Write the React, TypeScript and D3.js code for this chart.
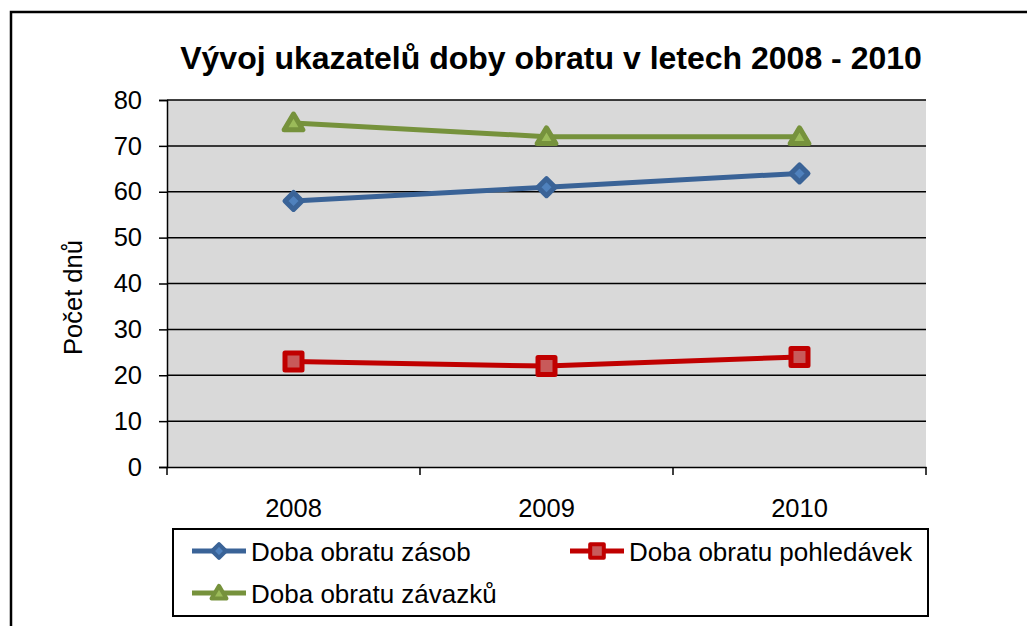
import { useEffect, useRef } from 'react';
import * as d3 from 'd3';

const years = ['2008', '2009', '2010'];
const zasoby = [58, 61, 64];
const pohledavky = [23, 22, 24];
const zavazky = [75, 72, 72];
const yTicks = [0, 10, 20, 30, 40, 50, 60, 70, 80];

const seriesNames = ['Doba obratu zásob', 'Doba obratu pohledávek', 'Doba obratu závazků'];

interface Series {
  name: string;
  values: number[];
  line: string;
  fill: string;
  marker: 'diamond' | 'square' | 'triangle';
}

const series: Series[] = [
  { name: seriesNames[0], values: zasoby, line: '#3A6397', fill: '#4F81BD', marker: 'diamond' },
  { name: seriesNames[1], values: pohledavky, line: '#C00000', fill: '#C85A5A', marker: 'square' },
  { name: seriesNames[2], values: zavazky, line: '#76923C', fill: '#9BBB59', marker: 'triangle' },
];

const FONT = 'Liberation Sans, Arial, sans-serif';

function markerPath(kind: Series['marker'], r: number) {
  if (kind === 'diamond') return `M0,${-r}L${r},0L0,${r}L${-r},0Z`;
  if (kind === 'square') return `M${-r},${-r}H${r}V${r}H${-r}Z`;
  return `M0,${-r * 1.05}L${r * 1.1},${r * 0.8}H${-r * 1.1}Z`;
}

function drawMarker(g: d3.Selection<SVGGElement, unknown, null, undefined>, s: Series, x: number, y: number, scale = 1) {
  const r = (s.marker === 'diamond' ? 8.5 : s.marker === 'square' ? 8.5 : 8.5) * scale;
  g.append('path')
    .attr('d', markerPath(s.marker, r))
    .attr('transform', `translate(${x},${y})`)
    .attr('fill', s.fill)
    .attr('stroke', s.line)
    .attr('stroke-width', 5 * scale)
    .attr('stroke-linejoin', 'round');
}

export default function App() {
  const svgRef = useRef<SVGSVGElement>(null);
  const width = 1027;
  const height = 626;

  useEffect(() => {
    if (!svgRef.current) return;
    const svg = d3.select(svgRef.current);
    svg.selectAll('*').remove();

    // outer chart frame
    svg.append('rect')
      .attr('x', 11).attr('y', 12)
      .attr('width', 1040).attr('height', 640)
      .attr('fill', '#fff')
      .attr('stroke', '#000').attr('stroke-width', 2.5);

    const plot = { left: 167, right: 926, top: 100, bottom: 467 };

    const x = d3.scaleBand<string>().domain(years).range([plot.left, plot.right]);
    const y = d3.scaleLinear().domain([0, 80]).range([plot.bottom, plot.top]);
    const cx = (i: number) => (x(years[i]) || 0) + x.bandwidth() / 2;

    // title
    svg.append('text')
      .attr('x', 551).attr('y', 69)
      .attr('text-anchor', 'middle')
      .attr('font-family', FONT)
      .attr('font-size', 32)
      .attr('font-weight', 'bold')
      .text('Vývoj ukazatelů doby obratu v letech 2008 - 2010');

    // plot background
    svg.append('rect')
      .attr('x', plot.left).attr('y', plot.top)
      .attr('width', plot.right - plot.left).attr('height', plot.bottom - plot.top)
      .attr('fill', '#D9D9D9');

    // gridlines
    svg.append('g')
      .selectAll('line')
      .data(yTicks.filter(t => t > 0))
      .join('line')
      .attr('x1', plot.left).attr('x2', plot.right)
      .attr('y1', d => y(d)).attr('y2', d => y(d))
      .attr('stroke', '#000').attr('stroke-width', 1.5);

    // y axis
    const yAxis = svg.append('g')
      .attr('transform', `translate(${plot.left},0)`)
      .call(d3.axisLeft(y).tickValues(yTicks).tickSize(8).tickPadding(17));
    yAxis.select('.domain').attr('stroke', '#000').attr('stroke-width', 1.5);
    yAxis.selectAll('.tick line').attr('stroke', '#000').attr('stroke-width', 1.5);
    yAxis.selectAll('text')
      .attr('font-family', FONT).attr('font-size', 25.5).attr('fill', '#000');

    // x axis
    const xAxis = svg.append('g')
      .attr('transform', `translate(0,${plot.bottom})`)
      .call(d3.axisBottom(x).tickSize(0).tickPadding(32));
    xAxis.select('.domain').attr('stroke', '#000').attr('stroke-width', 1.5);
    xAxis.selectAll('text')
      .attr('font-family', FONT).attr('font-size', 25.5).attr('fill', '#000');
    // band boundary ticks
    const bounds = years.map(d => x(d) || 0).concat([plot.right]);
    xAxis.selectAll('line.bound')
      .data(bounds)
      .join('line')
      .attr('class', 'bound')
      .attr('x1', d => d).attr('x2', d => d)
      .attr('y1', 0).attr('y2', 8)
      .attr('stroke', '#000').attr('stroke-width', 1.5);

    // y label
    svg.append('text')
      .attr('transform', `translate(82,${(plot.top + plot.bottom) / 2 + 14}) rotate(-90)`)
      .attr('text-anchor', 'middle')
      .attr('font-family', FONT)
      .attr('font-size', 25.5)
      .text('Počet dnů');

    // series
    const lineGen = d3.line<number>()
      .x((_, i) => cx(i))
      .y(d => y(d));

    series.forEach(s => {
      const g = svg.append('g');
      g.append('path')
        .datum(s.values)
        .attr('d', lineGen)
        .attr('fill', 'none')
        .attr('stroke', s.line)
        .attr('stroke-width', 5);
      s.values.forEach((v, i) => drawMarker(g, s, cx(i), y(v)));
    });

    // legend
    const legend = svg.append('g');
    legend.append('rect')
      .attr('x', 173).attr('y', 529)
      .attr('width', 755).attr('height', 87)
      .attr('fill', '#fff')
      .attr('stroke', '#000').attr('stroke-width', 2);

    const legendPos = [
      { x: 192, y: 551 },
      { x: 570, y: 551 },
      { x: 192, y: 593 },
    ];
    series.forEach((s, i) => {
      const p = legendPos[i];
      const g = legend.append('g');
      g.append('line')
        .attr('x1', p.x).attr('x2', p.x + 54)
        .attr('y1', p.y).attr('y2', p.y)
        .attr('stroke', s.line).attr('stroke-width', 5);
      drawMarker(g, s, p.x + 27, p.y, 0.8);
      g.append('text')
        .attr('x', p.x + 59).attr('y', p.y + 9.5)
        .attr('font-family', FONT)
        .attr('font-size', 26)
        .text(s.name);
    });
  }, []);

  return (
    <svg
      ref={svgRef}
      width={width}
      height={height}
      style={{ position: 'absolute', left: 0, top: 0 }}
    />
  );
}
